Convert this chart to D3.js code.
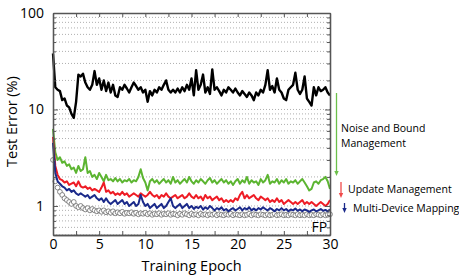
<html>
<head>
<meta charset="utf-8">
<script src="https://cdn.jsdelivr.net/npm/d3@7/dist/d3.min.js"></script>
<style>
  body { margin: 0; background: #fff; }
  text { font-family: "Open Sans", "Noto Sans", sans-serif; }
  .grid line { stroke: #9a9a9a; stroke-width: 0.8; stroke-dasharray: 1,2; }
  .axis path, .axis line { stroke: #555; }
</style>
</head>
<body>
<div id="chart"></div>
<script>
// epoch spacing of the recorded points
var step = 0.25;

// test error (%) per series, one value every 0.25 epoch from 0 to 30
var baseline = [38,17,16,15.5,12.5,13,11,10.5,9,8.2,12,23,22,23.5,19,17,16,18,25,18,21,16,20,15.5,19,15,18,14,13.5,17,16,18,16.5,15,17,19,17.5,16,17,15,16,12,15.5,14,16,15,17,16,18,20,16,15,16,15,16.5,15,17,15.5,18,16,21,14,25.5,16,18,23,15,17,14.5,26,16,17,15.5,14,16,15,17,16,15,16.5,15,14,15.5,14.5,13.5,15,14,12.5,15,14,16,15,18,25.5,16,17.5,15,21,16,15,13,12.5,16,17,18,24,16,14.5,16,22,13,12,11,17,14,17,15.5,16,17,15,14];
var noiseBound = [6.3,3.6,3.0,3.2,2.8,2.9,2.6,2.7,2.4,2.5,2.2,2.6,2.3,2.4,3.2,2.2,2.3,2.0,2.1,1.9,2.2,2.0,1.8,2.1,1.85,1.9,1.8,1.95,1.8,1.9,1.75,1.85,1.8,1.9,1.75,1.85,1.8,2.0,2.4,1.95,1.75,1.45,1.8,1.9,1.75,1.85,1.7,1.8,1.9,1.75,1.85,1.7,2.0,1.75,1.85,1.7,1.8,1.9,1.75,2.0,1.8,1.7,1.85,1.75,1.9,1.8,1.7,1.85,1.95,1.75,1.85,1.7,1.8,1.9,1.75,1.85,1.7,1.8,1.65,1.8,1.9,1.7,1.85,1.75,2.0,1.7,1.85,1.75,1.8,1.65,1.9,1.75,1.85,2.1,1.7,1.8,1.75,1.9,1.7,1.85,1.75,1.9,1.7,1.8,1.75,1.85,1.7,1.8,1.9,1.75,1.6,1.45,1.5,1.75,1.8,1.7,1.85,1.9,2.0,1.8,1.5];
var updateMgmt = [5.2,2.6,2.1,1.9,1.85,1.75,1.8,1.65,1.7,1.75,1.6,1.8,1.6,1.55,1.6,1.5,1.55,1.45,1.5,1.45,1.4,1.55,1.75,1.4,1.45,1.35,1.4,1.3,1.35,1.3,1.4,1.3,1.35,1.25,1.3,1.35,1.3,1.25,1.35,1.3,1.25,1.3,1.4,1.3,1.25,1.3,1.2,1.3,1.25,1.35,1.25,1.2,1.25,1.3,1.2,1.25,1.3,1.2,1.25,1.35,1.25,1.2,1.3,1.2,1.25,1.15,1.3,1.2,1.25,1.15,1.2,1.25,1.15,1.2,1.1,1.15,1.1,1.15,1.1,1.2,1.15,1.3,1.4,1.2,1.3,1.2,1.25,1.3,1.2,1.15,1.25,1.2,1.15,1.2,1.1,1.15,1.1,1.2,1.1,1.15,1.05,1.1,1.15,1.1,1.05,1.1,1.05,1.1,1.15,1.05,1.1,1.05,1.1,1.05,1.0,1.05,1.1,1.05,1.0,1.05,1.15];
var multiDevice = [4.5,2.2,1.8,1.7,1.6,1.55,1.45,1.5,1.4,1.45,1.35,1.3,1.35,1.3,1.25,1.3,1.2,1.25,1.3,1.2,1.15,1.2,1.1,1.2,1.1,1.05,1.1,1.15,1.05,1.1,1.15,1.05,1.1,1.0,1.05,1.1,1.0,1.05,1.3,1.1,1.0,1.05,0.95,1.0,1.05,0.95,1.0,1.05,0.95,1.0,1.1,1.2,1.0,0.95,1.0,1.05,0.95,1.0,1.05,0.95,1.0,0.93,0.98,0.95,1.0,0.92,0.97,0.93,1.0,0.95,0.9,0.95,0.92,0.97,0.9,0.93,0.88,0.92,0.95,0.9,0.93,0.97,0.9,0.95,0.92,0.97,0.9,0.94,0.9,0.95,0.92,0.97,0.93,0.9,0.95,0.92,0.88,0.93,0.9,0.95,0.9,0.93,0.88,0.92,0.9,0.94,0.89,0.92,0.88,0.92,0.9,0.87,0.9,0.92,0.88,0.9,0.93,0.89,0.91,0.88,0.92];
var floatingPoint = [3.0,1.8,1.55,1.4,1.3,1.2,1.15,1.1,1.05,1.1,1.0,0.97,1.0,0.95,0.92,0.95,0.9,0.93,0.9,0.88,0.9,0.87,0.9,0.86,0.88,0.85,0.88,0.84,0.86,0.84,0.87,0.83,0.85,0.84,0.86,0.83,0.85,0.82,0.84,0.83,0.85,0.82,0.84,0.81,0.83,0.82,0.84,0.81,0.83,0.82,0.84,0.81,0.83,0.82,0.8,0.83,0.81,0.84,0.82,0.8,0.83,0.81,0.82,0.8,0.83,0.81,0.82,0.8,0.82,0.81,0.83,0.8,0.82,0.81,0.8,0.82,0.81,0.83,0.8,0.82,0.81,0.8,0.82,0.8,0.81,0.83,0.8,0.82,0.81,0.8,0.82,0.81,0.8,0.82,0.8,0.81,0.83,0.8,0.81,0.82,0.8,0.81,0.8,0.82,0.81,0.8,0.82,0.8,0.81,0.8,0.82,0.8,0.81,0.8,0.82,0.81,0.8,0.82,0.8,0.81,0.82];

// axis ticks
var xMajor = [0, 5, 10, 15, 20, 25, 30];
var xMinor = [2.5, 7.5, 12.5, 17.5, 22.5, 27.5];
var yMajor = [1, 10, 100];
var yMinor = [0.5,0.6,0.7,0.8,0.9,2,3,4,5,6,7,8,9,20,30,40,50,60,70,80,90];

var margin = {top: 13, left: 53, right: 129, bottom: 41},
    width = 459 - margin.left - margin.right,
    height = 276 - margin.top - margin.bottom;

var svg = d3.select("#chart").append("svg")
    .attr("width", 459)
    .attr("height", 276);

var g = svg.append("g")
    .attr("transform", "translate(" + margin.left + "," + margin.top + ")");

var x = d3.scaleLinear().domain([0, 30]).range([0, width]);
var y = d3.scaleLog().domain([0.5, 100]).range([height, 0]);

// dotted grid on every log tick
g.append("g")
    .attr("class", "grid")
    .selectAll("line")
    .data(yMinor.concat([1, 10]))
    .enter()
    .append("line")
    .attr("x1", 0)
    .attr("x2", width)
    .attr("y1", function (d) { return y(d); })
    .attr("y2", function (d) { return y(d); });

// FP reference as open circles
g.append("g")
    .selectAll("circle")
    .data(floatingPoint)
    .enter()
    .append("circle")
    .attr("cx", function (d, i) { return x(i * step); })
    .attr("cy", function (d) { return y(d); })
    .attr("r", 2.4)
    .attr("fill", "#fff")
    .attr("stroke", "#6a6a6a")
    .attr("stroke-width", 0.8);

var line = d3.line()
    .x(function (d, i) { return x(i * step); })
    .y(function (d) { return y(d); });

var series = [
    {values: baseline, color: "#000000", w: 2.4},
    {values: noiseBound, color: "#5cb531", w: 2},
    {values: updateMgmt, color: "#ee1c25", w: 2},
    {values: multiDevice, color: "#1b2a8a", w: 2}
];

series.forEach(function (s) {
    g.append("path")
        .datum(s.values)
        .attr("fill", "none")
        .attr("stroke", s.color)
        .attr("stroke-width", s.w)
        .attr("stroke-linejoin", "round")
        .attr("d", line);
});

// axes with inward ticks on all four sides
function noLabel() { return ""; }

g.append("g").attr("class", "axis")
    .attr("transform", "translate(0," + height + ")")
    .call(d3.axisBottom(x).tickValues(xMajor).tickSizeInner(-4).tickSizeOuter(0).tickPadding(4))
    .call(function (a) { a.selectAll("text").attr("font-size", "14px").attr("fill", "#000"); });
g.append("g").attr("class", "axis")
    .attr("transform", "translate(0," + height + ")")
    .call(d3.axisBottom(x).tickValues(xMinor).tickSizeInner(-4).tickSizeOuter(0).tickFormat(noLabel));
g.append("g").attr("class", "axis")
    .call(d3.axisTop(x).tickValues(xMajor.concat(xMinor)).tickSizeInner(-4).tickSizeOuter(0).tickFormat(noLabel));

g.append("g").attr("class", "axis")
    .call(d3.axisLeft(y).tickValues(yMajor).tickSizeInner(-5).tickSizeOuter(0).tickPadding(9).tickFormat(d3.format("d")))
    .call(function (a) { a.selectAll("text").attr("font-size", "14px").attr("fill", "#000"); });
g.append("g").attr("class", "axis")
    .call(d3.axisLeft(y).tickValues(yMinor).tickSizeInner(-3).tickSizeOuter(0).tickFormat(noLabel));
g.append("g").attr("class", "axis")
    .attr("transform", "translate(" + width + ",0)")
    .call(d3.axisRight(y).tickValues(yMajor).tickSizeInner(-5).tickSizeOuter(0).tickFormat(noLabel));
g.append("g").attr("class", "axis")
    .attr("transform", "translate(" + width + ",0)")
    .call(d3.axisRight(y).tickValues(yMinor).tickSizeInner(-3).tickSizeOuter(0).tickFormat(noLabel));

g.selectAll(".axis path").attr("stroke-width", 1.3);

// axis titles
svg.append("text")
    .attr("x", margin.left + x(15))
    .attr("y", 271)
    .attr("text-anchor", "middle")
    .attr("font-size", "14.5px")
    .text("Training Epoch");

svg.append("text")
    .attr("transform", "translate(17," + (margin.top + y(7.5)) + ") rotate(-90)")
    .attr("text-anchor", "middle")
    .attr("font-size", "14.5px")
    .text("Test Error (%)");

g.append("text")
    .attr("x", x(29.7))
    .attr("y", y(0.54))
    .attr("text-anchor", "end")
    .attr("font-size", "14px")
    .text("FP");

// annotations on the right
var ann = svg.append("g").attr("transform", "translate(" + (margin.left + width) + ",0)");

function arrow(xp, y1, y2, color, w) {
    ann.append("line")
        .attr("x1", xp).attr("x2", xp)
        .attr("y1", y1).attr("y2", y2 - 4)
        .attr("stroke", color)
        .attr("stroke-width", w);
    ann.append("path")
        .attr("d", "M" + (xp - 2.2) + "," + (y2 - 5) + "L" + (xp + 2.2) + "," + (y2 - 5) + "L" + xp + "," + y2 + "Z")
        .attr("fill", color);
}

arrow(6.5, 93, 176, "#6cc04a", 1.3);
arrow(11, 182, 198, "#f04a4a", 1.3);
arrow(14.5, 203, 213, "#1b2a8a", 1.3);

ann.append("text").attr("x", 11).attr("y", 132).attr("font-size", "10.5px").text("Noise and Bound");
ann.append("text").attr("x", 11).attr("y", 147).attr("font-size", "10.5px").text("Management");
ann.append("text").attr("x", 18).attr("y", 193).attr("font-size", "10.5px").text("Update Management");
ann.append("text").attr("x", 23).attr("y", 212).attr("font-size", "10.5px").text("Multi-Device Mapping");
</script>
</body>
</html>
